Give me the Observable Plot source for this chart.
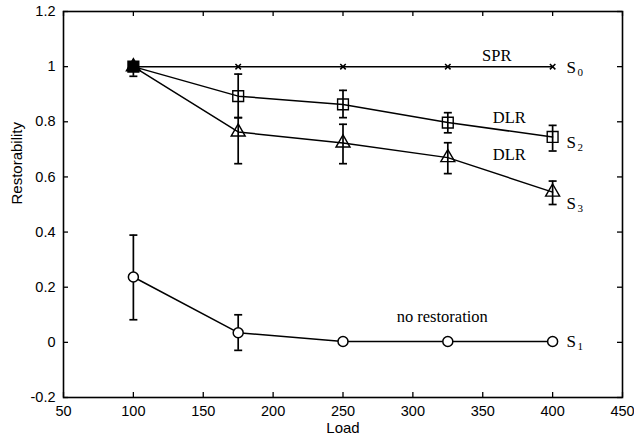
<!DOCTYPE html>
<html>
<head>
<meta charset="utf-8">
<script src="https://cdn.jsdelivr.net/npm/d3@7"></script>
<script src="https://cdn.jsdelivr.net/npm/@observablehq/plot@0.6"></script>
<style>
  html, body { margin: 0; padding: 0; background: #fff; }
</style>
</head>
<body>
<div id="chart"></div>
<script>
// ---- data ----
const loads = [100, 175, 250, 325, 400];

const s0 = [1, 1, 1, 1, 1];

const s2 = [1.0, 0.893, 0.863, 0.797, 0.745];
const s2Lo = [0.99, 0.815, 0.815, 0.760, 0.694];
const s2Hi = [1.0, 0.973, 0.914, 0.833, 0.787];

const s3 = [1.0, 0.763, 0.723, 0.670, 0.545];
const s3Lo = [0.965, 0.648, 0.648, 0.612, 0.500];
const s3Hi = [1.0, 0.815, 0.791, 0.724, 0.585];

const s1 = [0.237, 0.035, 0.003, 0.003, 0.003];
const s1Lo = [0.082, -0.029, null, null, null];
const s1Hi = [0.389, 0.100, null, null, null];

const xTicks = [50, 100, 150, 200, 250, 300, 350, 400, 450];
const xTickLabels = ["50", "100", "150", "200", "250", "300", "350", "400", "450"];
const yTicks = [-0.2, 0, 0.2, 0.4, 0.6, 0.8, 1, 1.2];
const yTickLabels = ["-0.2", "0", "0.2", "0.4", "0.6", "0.8", "1", "1.2"];

const annotations = [
  {text: "SPR", x: 360, y: 1.041},
  {text: "DLR", x: 369, y: 0.816},
  {text: "DLR", x: 369, y: 0.682},
  {text: "no restoration", x: 321, y: 0.094}
];
const seriesLabels = [
  {sub: "0", x: 410, y: 0.997},
  {sub: "2", x: 410, y: 0.725},
  {sub: "3", x: 410, y: 0.504},
  {sub: "1", x: 410, y: 0.004}
];

// ---- build tables ----
const rows = (name, vals, lo, hi, symbol) =>
  loads.map((x, i) => ({series: name, x, y: vals[i], lo: lo ? lo[i] : null, hi: hi ? hi[i] : null, symbol, i}));

const d0 = rows("S0", s0, null, null, "times");
const d2 = rows("S2", s2, s2Lo, s2Hi, "square");
const d3r = rows("S3", s3, s3Lo, s3Hi, "triangle");
const d1 = rows("S1", s1, s1Lo, s1Hi, "circle");
const all = [...d0, ...d2, ...d3r, ...d1];
const errs = all.filter(d => d.lo != null && d.hi != null);

const capSymbol = {
  draw(context) {
    context.moveTo(-4, 0);
    context.lineTo(4, 0);
  }
};

const W = 634, H = 439;
const mL = 63, mR = 12, mT = 11, mB = 42;
const plotW = W - mL - mR, plotH = H - mT - mB;
const xFmt = d => xTickLabels[xTicks.indexOf(d)];
const yFmt = d => { const i = yTicks.findIndex(t => Math.abs(t - d) < 1e-9); return i >= 0 ? yTickLabels[i] : ""; };

const serif = "'Liberation Serif', 'Times New Roman', serif";
const sans = "'Liberation Sans', Arial, Helvetica, sans-serif";

const chart = Plot.plot({
  width: W,
  height: H,
  marginLeft: mL,
  marginRight: mR,
  marginTop: mT,
  marginBottom: mB,
  style: {fontFamily: sans, fontSize: "14.5px", color: "black", background: "white"},
  x: {domain: [50, 450], ticks: xTicks, tickFormat: xFmt, tickSize: 0, tickPadding: 8, label: null},
  y: {domain: [-0.2, 1.2], ticks: yTicks, tickFormat: yFmt, tickSize: 0, tickPadding: 8, label: null},
  marks: [
    Plot.frame({stroke: "black", strokeWidth: 1.6}),
    // inward ticks on all four sides
    Plot.tickX(xTicks, {x: d => d, insetTop: plotH - 5, stroke: "black", strokeWidth: 1.3}),
    Plot.tickX(xTicks, {x: d => d, insetBottom: plotH - 5, stroke: "black", strokeWidth: 1.3}),
    Plot.tickY(yTicks, {y: d => d, insetRight: plotW - 5, stroke: "black", strokeWidth: 1.3}),
    Plot.tickY(yTicks, {y: d => d, insetLeft: plotW - 5, stroke: "black", strokeWidth: 1.3}),
    // lines
    Plot.line(all, {x: "x", y: "y", z: "series", stroke: "black", strokeWidth: 1.5}),
    // error bars
    Plot.ruleX(errs, {x: "x", y1: "lo", y2: "hi", stroke: "black", strokeWidth: 1.7}),
    Plot.dot(errs, {x: "x", y: "lo", symbol: capSymbol, stroke: "black", strokeWidth: 1.7, fill: "none"}),
    Plot.dot(errs, {x: "x", y: "hi", symbol: capSymbol, stroke: "black", strokeWidth: 1.7, fill: "none"}),
    // markers
    Plot.dot(d1, {x: "x", y: "y", symbol: "circle", r: 5, stroke: "black", strokeWidth: 1.5, fill: "white"}),
    Plot.dot(d2, {x: "x", y: "y", symbol: "square", r: 6.1, stroke: "black", strokeWidth: 1.4, fill: d => d.i === 0 ? "black" : "none"}),
    Plot.dot(d3r, {x: "x", y: "y", symbol: "triangle", r: 5.2, stroke: "black", strokeWidth: 1.4, fill: d => d.i === 0 ? "black" : "none"}),
    Plot.dot(d0, {x: "x", y: "y", symbol: "times", r: 2.6, stroke: "black", strokeWidth: 1.5}),
    // annotations
    Plot.text(annotations, {x: "x", y: "y", text: "text", fontFamily: serif, fontSize: 16.5, textAnchor: "middle", fill: "black"}),
    Plot.text(seriesLabels, {x: "x", y: "y", text: () => "S", fontFamily: serif, fontSize: 17, textAnchor: "start", fill: "black"}),
    Plot.text(seriesLabels, {x: "x", y: "y", text: "sub", fontFamily: serif, fontSize: 11, textAnchor: "start", dx: 11, dy: 5, fill: "black"}),
    // axis titles
    Plot.text(["Load"], {frameAnchor: "bottom", text: d => d, dy: 35, fontFamily: sans, fontSize: 15, fill: "black"}),
    Plot.text(["Restorability"], {frameAnchor: "left", text: d => d, rotate: -90, dx: -46, fontFamily: sans, fontSize: 15, fill: "black"})
  ]
});

document.getElementById("chart").appendChild(chart);
</script>
</body>
</html>
